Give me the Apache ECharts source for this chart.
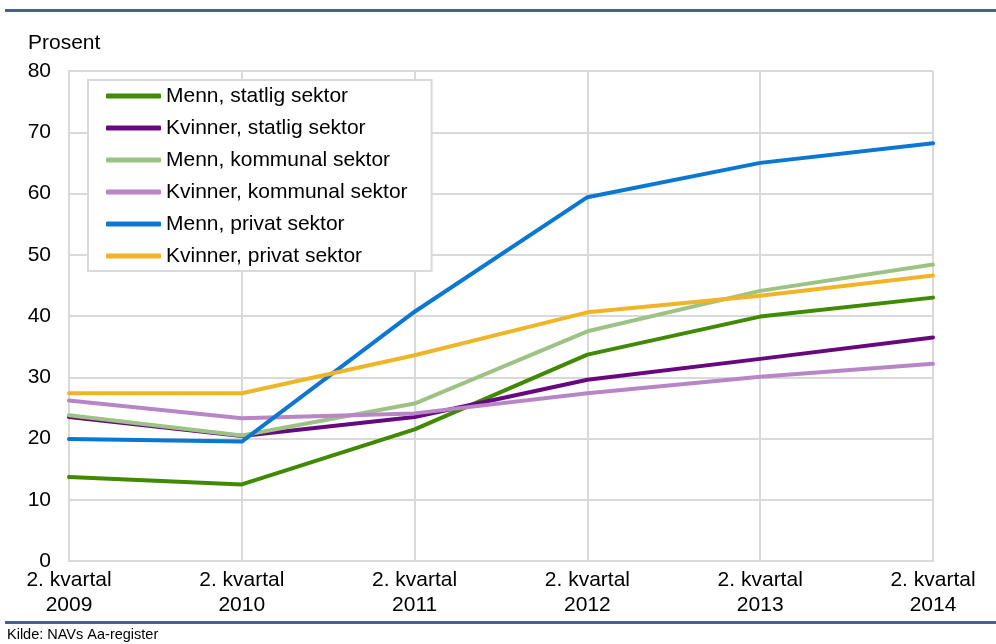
<!DOCTYPE html>
<html>
<head>
<meta charset="utf-8">
<script src="https://cdn.jsdelivr.net/npm/echarts@6/dist/echarts.min.js"></script>
<style>
  html, body { margin: 0; padding: 0; background: #fff; }
  #main { width: 996px; height: 644px; }
</style>
</head>
<body>
<div id="main"></div>
<script>
const chart = echarts.init(document.querySelector('#main'));

// data
const categories = ['2. kvartal\n2009', '2. kvartal\n2010', '2. kvartal\n2011', '2. kvartal\n2012', '2. kvartal\n2013', '2. kvartal\n2014'];
const mennStatlig = [13.7, 12.5, 21.5, 33.7, 39.9, 43.0];
const kvinnerStatlig = [23.5, 20.4, 23.5, 29.6, 33.0, 36.5];
const mennKommunal = [23.8, 20.5, 25.7, 37.5, 44.1, 48.4];
const kvinnerKommunal = [26.2, 23.3, 24.1, 27.4, 30.1, 32.2];
const mennPrivat = [19.9, 19.5, 40.7, 59.4, 65.0, 68.2];
const kvinnerPrivat = [27.4, 27.4, 33.6, 40.6, 43.3, 46.6];

const font = 'Liberation Sans, Arial, sans-serif';
const gridColor = '#d9d9d9';

function line(name, data, color) {
    return {
        name: name,
        type: 'line',
        data: data,
        symbol: 'none',
        lineStyle: { width: 4, color: color, cap: 'round', join: 'round' },
        itemStyle: { color: color }
    };
}

let option = {
    animation: false,
    textStyle: { fontFamily: font },
    grid: { left: 69, right: 63, top: 71, bottom: 83, containLabel: false },
    legend: {
        orient: 'vertical',
        left: 88,
        top: 80,
        icon: 'roundRect',
        itemWidth: 55,
        itemHeight: 5,
        itemGap: 8,
        padding: [4, 24, 3, 18],
        borderColor: gridColor,
        borderWidth: 2,
        backgroundColor: '#fff',
        textStyle: { fontFamily: font, fontSize: 21, color: '#000', lineHeight: 24 },
        data: ['Menn, statlig sektor', 'Kvinner, statlig sektor', 'Menn, kommunal sektor',
               'Kvinner, kommunal sektor', 'Menn, privat sektor', 'Kvinner, privat sektor']
    },
    xAxis: {
        type: 'category',
        data: categories,
        boundaryGap: false,
        axisLine: { lineStyle: { color: gridColor, width: 2 } },
        axisTick: { show: false },
        splitLine: { show: true, lineStyle: { color: gridColor, width: 2 } },
        axisLabel: { color: '#000', fontSize: 21, lineHeight: 25, margin: 7, fontFamily: font }
    },
    yAxis: {
        type: 'value',
        min: 0,
        max: 80,
        interval: 10,
        axisLine: { show: true, lineStyle: { color: gridColor, width: 2 } },
        axisTick: { show: false },
        splitLine: { lineStyle: { color: gridColor, width: 2 } },
        axisLabel: { color: '#000', fontSize: 21, margin: 18, fontFamily: font }
    },
    graphic: [
        { type: 'rect', shape: { x: 5, y: 9, width: 991, height: 3 }, style: { fill: '#46618f' } },
        { type: 'rect', shape: { x: 5, y: 621, width: 991, height: 3 }, style: { fill: '#46618f' } },
        { type: 'text', left: 28, top: 33, style: { text: 'Prosent', fontSize: 21, fontFamily: font, fill: '#000' } },
        { type: 'text', left: 7, top: 627, style: { text: 'Kilde: NAVs Aa-register', fontSize: 14.5, fontFamily: font, fill: '#000' } }
    ],
    series: [
        line('Menn, statlig sektor', mennStatlig, '#3f8a00'),
        line('Kvinner, statlig sektor', kvinnerStatlig, '#68087e'),
        line('Menn, kommunal sektor', mennKommunal, '#9dc384'),
        line('Kvinner, kommunal sektor', kvinnerKommunal, '#b886c6'),
        line('Menn, privat sektor', mennPrivat, '#0a78d2'),
        line('Kvinner, privat sektor', kvinnerPrivat, '#f0b428')
    ]
};

chart.setOption(option);
</script>
</body>
</html>
